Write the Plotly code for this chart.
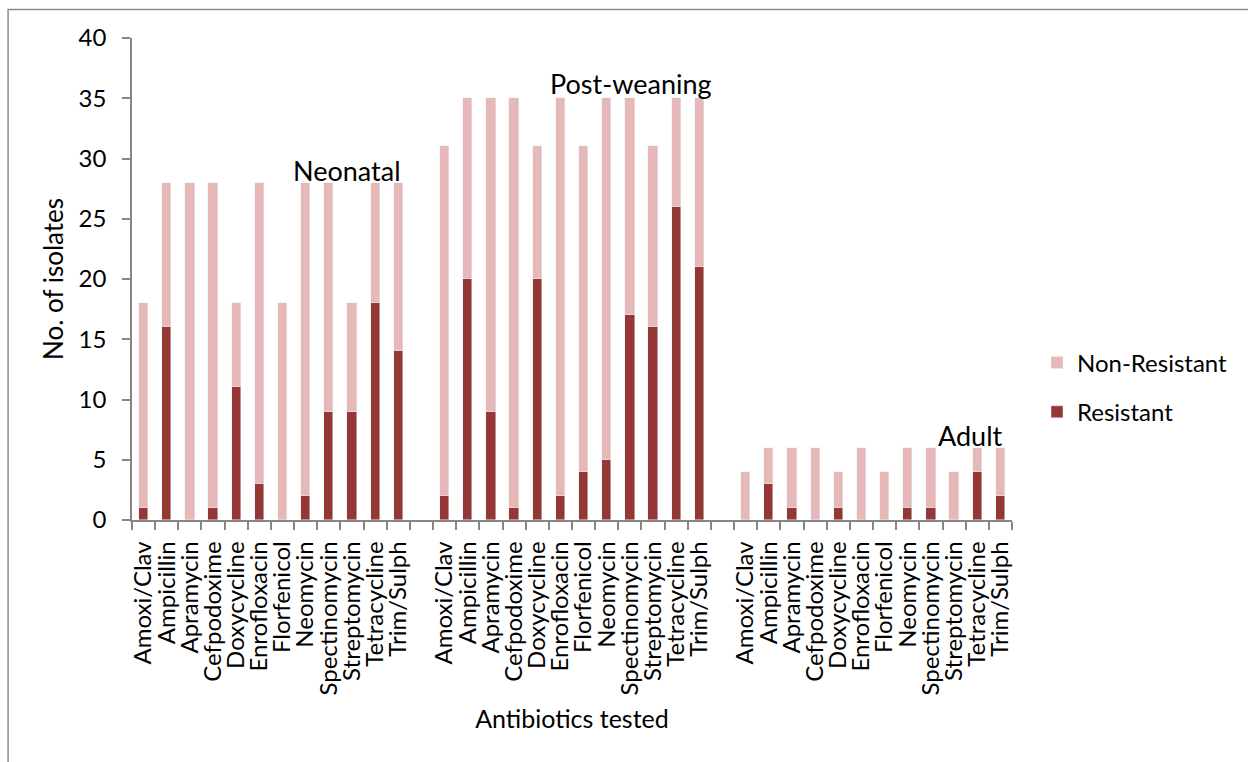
import plotly.graph_objects as go

# Antibiotics tested in each age group
antibiotics = ["Amoxi/Clav", "Ampicillin", "Apramycin", "Cefpodoxime", "Doxycycline",
               "Enrofloxacin", "Florfenicol", "Neomycin", "Spectinomycin",
               "Streptomycin", "Tetracycline", "Trim/Sulph"]
groups = ["Neonatal", "Post-weaning", "Adult"]

# Total isolates tested and resistant isolates per antibiotic
neonatal_total = [18, 28, 28, 28, 18, 28, 18, 28, 28, 18, 28, 28]
neonatal_resistant = [1, 16, 0, 1, 11, 3, 0, 2, 9, 9, 18, 14]
postweaning_total = [31, 35, 35, 35, 31, 35, 31, 35, 35, 31, 35, 35]
postweaning_resistant = [2, 20, 9, 1, 20, 2, 4, 5, 17, 16, 26, 21]
adult_total = [4, 6, 6, 6, 4, 6, 4, 6, 6, 4, 6, 6]
adult_resistant = [0, 3, 1, 0, 1, 0, 0, 1, 1, 0, 4, 2]

y_ticks = [0, 5, 10, 15, 20, 25, 30, 35, 40]

totals = [neonatal_total, postweaning_total, adult_total]
resistant = [neonatal_resistant, postweaning_resistant, adult_resistant]

# Lay the three groups out on one category axis with a blank slot between groups
x_pos, res_vals, non_vals, tick_text = [], [], [], []
last_pos = []
slot = 0
for g in range(len(groups)):
    if g > 0:
        slot += 1  # blank slot between groups
    for i, name in enumerate(antibiotics):
        x_pos.append(slot)
        res_vals.append(resistant[g][i])
        non_vals.append(totals[g][i] - resistant[g][i])
        tick_text.append(name)
        slot += 1
    last_pos.append(slot - 1)
x_max = last_pos[-1]

FONT = "Lato"
DARK = "#953735"
LIGHT = "#E6B9B8"
AXIS = "#868686"

fig = go.Figure()
fig.add_trace(go.Bar(x=x_pos, y=res_vals, name="Resistant", marker_color=DARK,
                     width=0.4, legendgroup="r", legendrank=2))
fig.add_trace(go.Bar(x=x_pos, y=non_vals, name="Non-Resistant", marker_color=LIGHT,
                     width=0.4, legendgroup="n", legendrank=1))

# Group names, right-aligned just past the last bar of each group
label_y = [29.0, 36.2, 7.0]
label_dx = [0.22, 0.64, 0.2]
for g, name in enumerate(groups):
    fig.add_annotation(x=last_pos[g] + label_dx[g], y=label_y[g], text=name,
                       showarrow=False, xanchor="right", yanchor="middle",
                       font=dict(family=FONT, size=27, color="black"))

W, H = 1248, 762
ml, mr, mt, mb = 131.5, 236, 38, 242
pw, ph = W - ml - mr, H - mt - mb

# Outer chart border
fig.add_shape(type="rect", xref="paper", yref="paper",
              x0=(7.5 - ml) / pw, x1=1.5, y0=-1.0, y1=(H - mb - 9.5) / ph,
              line=dict(color="#8c8c8c", width=1.5), fillcolor="rgba(0,0,0,0)",
              layer="below")

fig.update_layout(
    barmode="stack",
    width=W, height=H,
    margin=dict(l=ml, r=mr, t=mt, b=mb, pad=0, autoexpand=False),
    plot_bgcolor="white", paper_bgcolor="white",
    font=dict(family=FONT, size=24, color="black"),
    bargap=0,
    legend=dict(xref="container", yref="container",
                x=1037 / W, y=(H - 387.5) / H, xanchor="left",
                yanchor="middle", traceorder="grouped", tracegroupgap=15,
                font=dict(family=FONT, size=24, color="black"),
                bgcolor="rgba(0,0,0,0)"),
    xaxis=dict(
        range=[-0.5, x_max + 0.5], automargin=False,
        tickmode="array", tickvals=x_pos, ticktext=tick_text,
        tickangle=-90, ticks="", ticklen=0, ticklabelstandoff=10,
        showline=True, linecolor=AXIS, linewidth=1.5,
        showgrid=False, zeroline=False,
        minor=dict(tickmode="linear", tick0=-0.5, dtick=1, ticks="outside",
                   ticklen=8, tickcolor=AXIS, tickwidth=1.5, showgrid=False),
        tickfont=dict(family=FONT, size=24, color="black"),
        title=dict(text="Antibiotics tested", standoff=16,
                   font=dict(family=FONT, size=25, color="black")),
    ),
    yaxis=dict(
        range=[0, 40], tickmode="array", tickvals=y_ticks, automargin=False,
        ticks="outside", ticklen=8, tickcolor=AXIS, tickwidth=1.5,
        ticklabelstandoff=11,
        showline=True, linecolor=AXIS, linewidth=1.5,
        showgrid=False, zeroline=False,
        tickfont=dict(family=FONT, size=24, color="black"),
        title=dict(text="No. of isolates", standoff=8,
                   font=dict(family=FONT, size=26, color="black")),
    ),
)

fig.write_html("out.html")
